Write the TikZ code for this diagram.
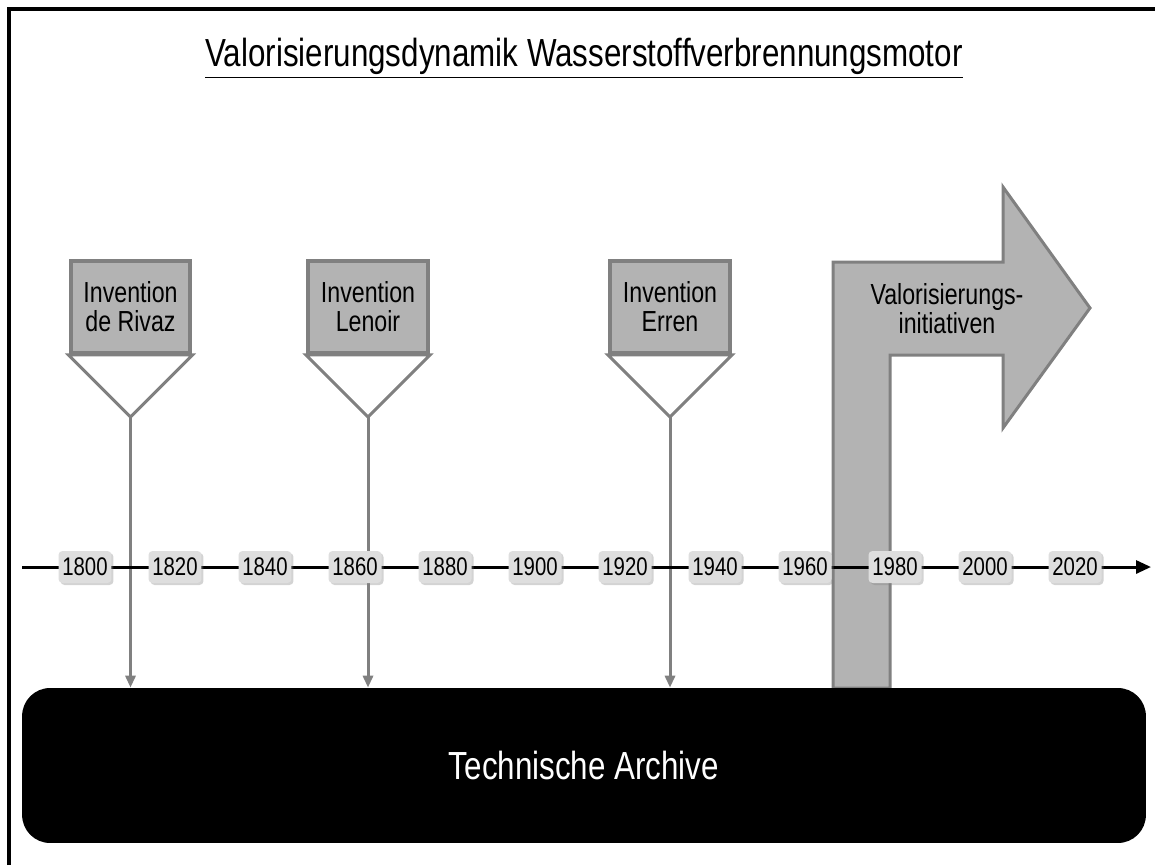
\documentclass[tikz,border=0pt]{standalone}
\usepackage{fontspec}
\setmainfont{Liberation Sans}[FakeStretch=0.8]
\usetikzlibrary{calc,arrows.meta,shadows}
\definecolor{boxgray}{HTML}{B3B3B3}
\definecolor{linegray}{HTML}{808080}
\definecolor{yeargray}{HTML}{DEDEDE}
\tikzset{
	invbox/.style={draw=linegray, line width=0.08cm, fill=boxgray, minimum width=2.4cm, minimum height=1.84cm, align=center, font=\fontsize{16.5}{16.5}\selectfont},
	funnel/.style={draw=linegray, line width=0.06cm, fill=white, line join=miter},
	dropline/.style={draw=linegray, line width=0.06cm, -{Triangle[length=0.24cm,width=0.2cm]}},
	yearbox/.style={fill=yeargray, rounded corners=0.08cm, minimum width=1.06cm, minimum height=0.64cm, inner sep=0pt, font=\fontsize{14.5}{15}\selectfont, drop shadow={opacity=0.35, shadow xshift=0.04cm, shadow yshift=-0.04cm}},
	archivebox/.style={fill=black, text=white, rounded corners=0.56cm, minimum width=22.48cm, minimum height=3.1cm, font=\fontsize{22.3}{24}\selectfont},
}

\begin{document}
\begin{tikzpicture}[x=0.02cm, y=-0.02cm]
	%%%%% START %%%%%
	\useasboundingbox (0,0) rectangle (1155,865);
	
	% frame
	\draw[line width=0.07cm] (9,865) -- (9,9) -- (1155,9);
	
	\node[anchor=base, font=\fontsize{22.3}{24}\selectfont] (title) at (584,67) {\underline{Valorisierungsdynamik Wasserstoffverbrennungsmotor}};
	
	% valorisation arrow
	\draw[draw=linegray, line width=0.06cm, fill=boxgray, line join=miter] (833,688) -- (833,262) -- (1003,262) -- (1003,187) -- (1090,308) -- (1003,428) -- (1003,355) -- (890,355) -- (890,688) -- cycle;
	\node[align=center, font=\fontsize{16.5}{16.5}\selectfont] (valor) at (947,309) {Valorisierungs-\\initiativen};
	
	\node[archivebox] (archive) at (584,765.5) {Technische Archive};
	
	% inventions
	\node[invbox] (rivaz) at (130.5,307) {Invention\\de Rivaz};
	\coordinate (rivaz tip) at ($(rivaz.south)+(0,62)$);
	\draw[funnel] (rivaz.south west) -- (rivaz.south east) -- (rivaz tip) -- cycle;
	
	\node[invbox] (lenoir) at (368,307) {Invention\\Lenoir};
	\coordinate (lenoir tip) at ($(lenoir.south)+(0,62)$);
	\draw[funnel] (lenoir.south west) -- (lenoir.south east) -- (lenoir tip) -- cycle;
	
	\node[invbox] (erren) at (670,307) {Invention\\Erren};
	\coordinate (erren tip) at ($(erren.south)+(0,62)$);
	\draw[funnel] (erren.south west) -- (erren.south east) -- (erren tip) -- cycle;
	
	\draw[dropline] (rivaz tip) -- (rivaz tip |- archive.north);
	\draw[dropline] (lenoir tip) -- (lenoir tip |- archive.north);
	\draw[dropline] (erren tip) -- (erren tip |- archive.north);
	
	% time axis
	\coordinate (axis start) at (22,567);
	\coordinate (axis end) at (1151,567);
	\draw[line width=0.06cm, -{Triangle[length=0.3cm,width=0.26cm]}] (axis start) -- (axis end);
	\foreach \i in {0,...,11} {
		\pgfmathtruncatemacro{\yr}{1800+20*\i}
		\node[yearbox] (y\yr) at ({85+90*\i},567) {\yr};
	}
	
	%%%%% END %%%%%
\end{tikzpicture}
\end{document}
